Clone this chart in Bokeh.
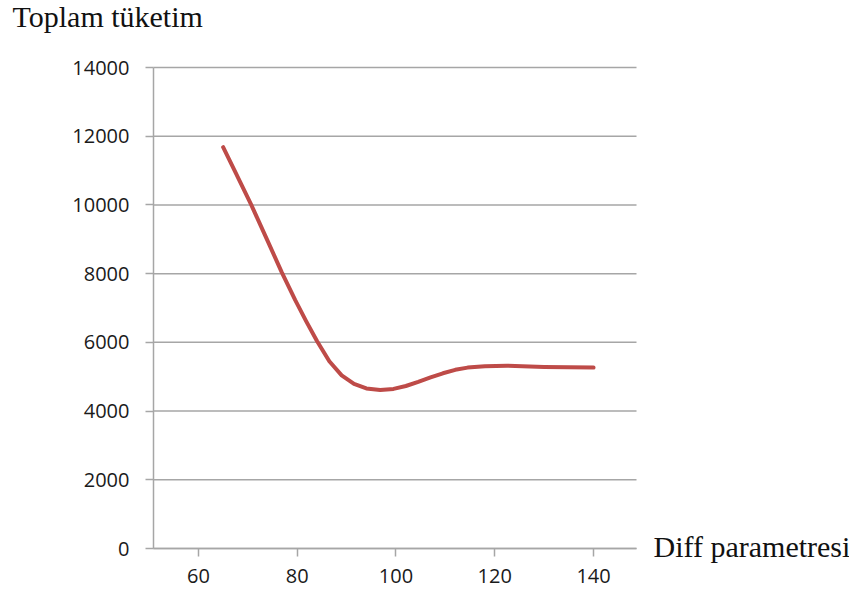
from bokeh.plotting import figure
from bokeh.models import Range1d, FixedTicker
from bokeh.core.properties import value
from bokeh.embed import file_html
from bokeh.resources import INLINE

# data
diff_param = [65, 67.5, 70.7, 73.8, 76.9, 79.6, 81.8, 84.0, 86.5, 89.0, 91.5, 94.0, 96.8, 99.5,
              102, 104.5, 107, 109.5, 112, 114.5, 118, 122.5, 130, 140]
toplam = [11680, 10950, 10000, 9020, 8030, 7230, 6620, 6040, 5450, 5040, 4790, 4660, 4615, 4645,
          4730, 4850, 4980, 5100, 5200, 5265, 5305, 5320, 5285, 5265]
x_ticks = [60, 80, 100, 120, 140]
y_ticks = [0, 2000, 4000, 6000, 8000, 10000, 12000, 14000]
y_title = "Toplam tüketim"
x_title = "Diff parametresi"

# axis extents of the plotted area
x_lo, x_hi = 50.9, 148.7
y_lo, y_hi = 0, 14000

# canvas geometry: the frame covers the whole canvas, axes are pinned at the data edges
W, H = 849, 598
axis_left_px, axis_top_px = 153, 67
axis_px_w, axis_px_h = 483, 481
ux = (x_hi - x_lo) / axis_px_w
uy = (y_hi - y_lo) / axis_px_h
x_start = x_lo - axis_left_px * ux
x_end = x_start + W * ux
y_top = y_hi + axis_top_px * uy
y_start = y_top - H * uy

p = figure(width=W, height=H, output_backend="svg", toolbar_location=None,
           x_range=Range1d(x_start, x_end), y_range=Range1d(y_start, y_top),
           min_border=0)
p.outline_line_color = None
p.background_fill_color = "white"
p.border_fill_color = "white"
p.grid.visible = False

grid_col = "#a6a6a6"
p.segment(x0=[x_lo] * len(y_ticks), x1=[x_hi] * len(y_ticks), y0=y_ticks, y1=y_ticks,
          line_color=grid_col, line_width=1.5)

for ax in (p.xaxis[0], p.yaxis[0]):
    ax.axis_line_color = grid_col
    ax.axis_line_width = 1.5
    ax.major_tick_line_color = grid_col
    ax.major_tick_line_width = 1.5
    ax.major_tick_in = 0
    ax.major_tick_out = 8
    ax.minor_tick_line_color = None
    ax.major_label_text_font = "Open Sans"
    ax.major_label_text_font_size = "20px"
    ax.major_label_text_color = "#1a1a1a"

p.xaxis.ticker = FixedTicker(ticks=x_ticks)
p.yaxis.ticker = FixedTicker(ticks=y_ticks)
p.xaxis.fixed_location = y_lo
p.yaxis.fixed_location = x_lo
p.xaxis.bounds = (x_lo, x_hi)
p.yaxis.bounds = (y_lo, y_hi)
p.xaxis.major_label_standoff = 12
p.yaxis.major_label_standoff = 16

p.line(diff_param, toplam, line_color="#be4b48", line_width=4, line_cap="round", line_join="round")

# axis titles
p.text(x=[x_start + 12 * ux], y=[y_top - 16 * uy], text=[y_title], text_font=value("Liberation Serif"),
       text_font_size=value("30px"), text_color="#111111",
       text_baseline="middle", text_align="left")
p.text(x=[x_hi + 17 * ux], y=[y_lo + 2 * uy], text=[x_title], text_font=value("Liberation Serif"),
       text_font_size=value("30px"), text_color="#111111",
       text_baseline="middle", text_align="left")

open("out.html", "w").write(file_html(p, INLINE))
